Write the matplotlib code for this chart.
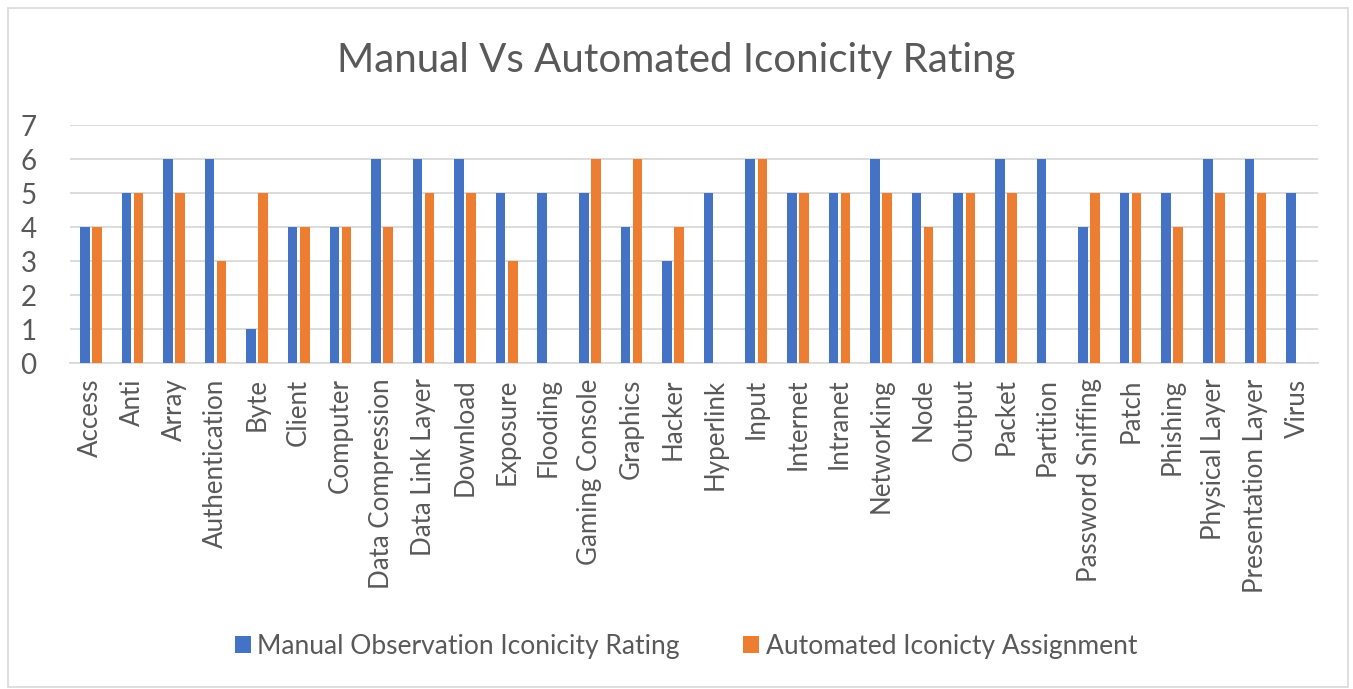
import numpy as np
import matplotlib
matplotlib.use('Agg')
import matplotlib.pyplot as plt
from matplotlib.patches import Rectangle

# data
terms = ['Access', 'Anti', 'Array', 'Authentication', 'Byte', 'Client', 'Computer',
         'Data Compression', 'Data Link Layer', 'Download', 'Exposure', 'Flooding',
         'Gaming Console', 'Graphics', 'Hacker', 'Hyperlink', 'Input', 'Internet',
         'Intranet', 'Networking', 'Node', 'Output', 'Packet', 'Partition',
         'Password Sniffing', 'Patch', 'Phishing', 'Physical Layer',
         'Presentation Layer', 'Virus']
manual = [4, 5, 6, 6, 1, 4, 4, 6, 6, 6, 5, 5, 5, 4, 3, 5, 6, 5, 5, 6, 5, 5, 6, 6, 4, 5, 5, 6, 6, 5]
automated = [4, 5, 5, 3, 5, 4, 4, 4, 5, 5, 3, 0, 6, 6, 4, 0, 6, 5, 5, 5, 4, 5, 5, 0, 5, 5, 4, 5, 5, 0]

plt.rcParams['font.family'] = ['Lato', 'DejaVu Sans']
grey = '#595959'

fig = plt.figure(figsize=(13.53, 6.89), dpi=100)
ax = fig.add_axes([0.0517, 0.473, 0.9223, 0.3455])

x = np.arange(len(terms))
w = 0.23
ax.bar(x - 0.145, manual, w, color='#4472C4', label='Manual Observation Iconicity Rating', zorder=3)
ax.bar(x + 0.145, automated, w, color='#ED7D31', label='Automated Iconicty Assignment', zorder=3)

ax.set_xlim(-0.5, len(terms) - 0.5)
ax.set_ylim(0, 7)
ax.set_yticks(range(0, 8))
ax.set_xticks(x)
ax.set_xticklabels(terms, rotation=90, fontsize=18.6, color=grey)
ax.tick_params(axis='y', labelsize=20, labelcolor=grey, length=0, pad=24)
ax.tick_params(axis='x', length=0, pad=11)
ax.grid(axis='y', color='#d9d9d9', linewidth=1.3, zorder=0)
for s in ['top', 'right', 'left']:
    ax.spines[s].set_visible(False)
ax.spines['bottom'].set_color('#d9d9d9')
ax.spines['bottom'].set_linewidth(1.3)

fig.text(0.5, 0.912, 'Manual Vs Automated Iconicity Rating', ha='center', va='center',
         fontsize=29, color=grey)

fig.legend(loc='center', bbox_to_anchor=(0.507, 0.062), ncol=2, frameon=False,
           fontsize=19, labelcolor=grey, handlelength=0.6, handleheight=0.6,
           handletextpad=0.25, columnspacing=2.4)

# outer chart border
fig.patches.append(Rectangle((0.006, 0.003), 0.99, 0.986, transform=fig.transFigure,
                             fill=False, edgecolor='#d9d9d9', linewidth=1.2))

fig.savefig('out.png', dpi=100)
